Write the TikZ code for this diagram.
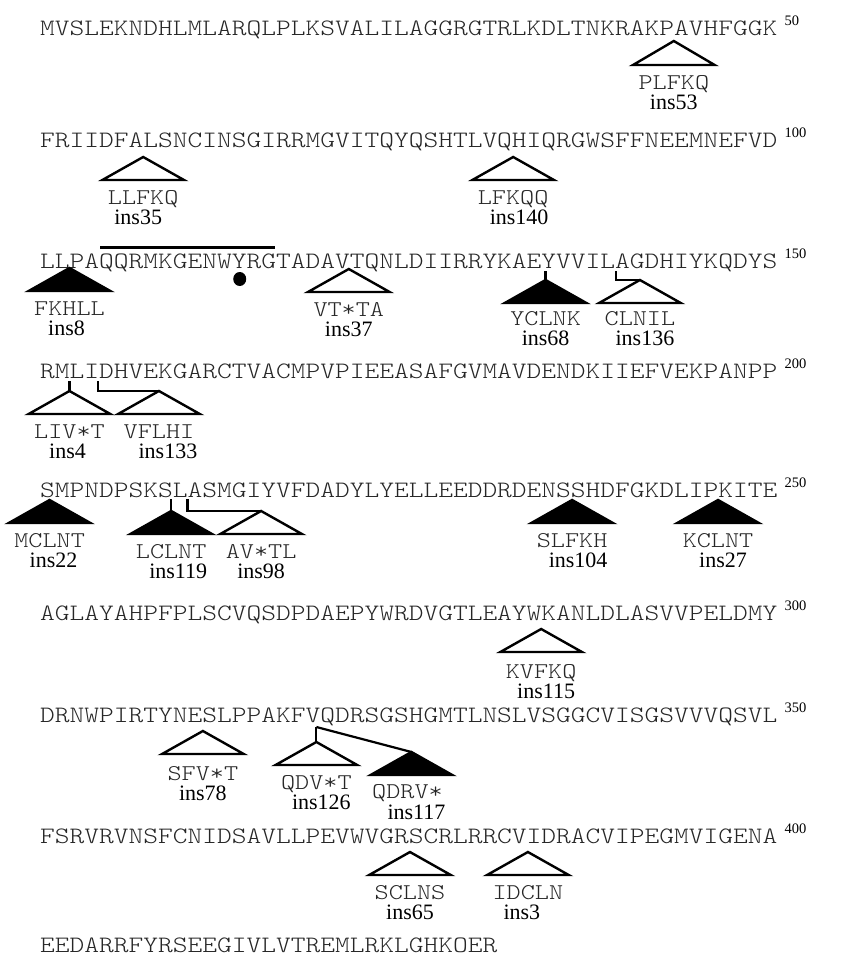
\documentclass[tikz,border=0pt]{standalone}
\usepackage{fontspec}
\setmainfont{Liberation Serif}
\newfontfamily\seqfam[FakeStretch=1.195]{lmmonolt10-regular.otf}
\usetikzlibrary{positioning}

\begin{document}
\begin{tikzpicture}[
    x=1pt, y=-1pt,
    seq/.style  = {font=\seqfam\fontsize{23.5}{23.5}\selectfont, text=black!85,
                   anchor=base west, inner sep=0pt},
    num/.style  = {font=\fontsize{14.5}{14.5}\selectfont, anchor=base west, inner sep=0pt},
    code/.style = {font=\seqfam\fontsize{22.5}{22.5}\selectfont, text=black!85,
                   inner sep=0pt, text height=14pt, text depth=0pt},
    insl/.style = {font=\fontsize{22}{22}\selectfont, inner sep=0pt,
                   text height=15pt, text depth=0pt},
    otri/.style = {draw, line width=2.4pt, fill=white},
    ftri/.style = {draw, line width=2.4pt, fill=black},
    stem/.style = {line width=2.2pt}
]
\useasboundingbox (0,0) rectangle (841,964);

% residues 1-50
\begin{scope}[shift={(40,35)}, x=14.74pt]
\node[seq] (l1) at (0,0) {MVSLEKNDHLMLARQLPLKSVALILAGGRGTRLKDLTNKRAKPAVHFGGK};
\node[num] (n1) at (50.5,-10) {50};
\draw[otri] (43,6) coordinate (a53) -- ++(-2.77,24) -- ++(2.77,0) coordinate (b53) -- ++(2.77,0) -- cycle;
\node[code, below=10pt of b53] (c53) {PLFKQ};
\node[insl, below=5pt of c53]  (i53) {ins53};
\end{scope}

% residues 51-100
\begin{scope}[shift={(40,147)}, x=14.74pt]
\node[seq] (l2) at (0,0) {FRIIDFALSNCINSGIRRMGVITQYQSHTLVQHIQRGWSFFNEEMNEFVD};
\node[num] (n2) at (50.5,-10) {100};
\draw[otri] (7,10) coordinate (a35) -- ++(-2.77,23) -- ++(2.77,0) coordinate (b35) -- ++(2.77,0) -- cycle;
\node[code, below=10pt of b35] (c35) {LLFKQ};
\node[insl, below=5pt of c35, xshift=-5pt] (i35) {ins35};
\draw[otri] (32.1,10) coordinate (a140) -- ++(-2.77,23) -- ++(2.77,0) coordinate (b140) -- ++(2.77,0) -- cycle;
\node[code, below=10pt of b140] (c140) {LFKQQ};
\node[insl, below=5pt of c140, xshift=6pt] (i140) {ins140};
\end{scope}

% residues 101-150
\begin{scope}[shift={(40,268)}, x=14.74pt]
\node[seq] (l3) at (0,0) {LLPAQQRMKGENWYRGTADAVTQNLDIIRRYKAEYVVILAGDHIYKQDYS};
\node[num] (n3) at (50.5,-10) {150};
\draw[line width=3.8pt] (4.1,-20.5) -- (15.96,-20.5);
\fill (13.55,11) ellipse [x radius=6.5pt, y radius=7pt];
\draw[ftri] (2,0) coordinate (a8) -- ++(-2.77,23) -- ++(2.77,0) coordinate (b8) -- ++(2.77,0) -- cycle;
\node[code, below=10pt of b8] (c8) {FKHLL};
\node[insl, below=5pt of c8, xshift=-3pt] (i8) {ins8};
\draw[otri] (20.95,1) coordinate (a37) -- ++(-2.77,23) -- ++(2.77,0) coordinate (b37) -- ++(2.77,0) -- cycle;
\node[code, below=10pt of b37] (c37) {VT*TA};
\node[insl, below=5pt of c37] (i37) {ins37};
\coordinate (s68) at (34.3,3);
\draw[ftri] (34.3,12) coordinate (a68) -- ++(-2.77,23) -- ++(2.77,0) coordinate (b68) -- ++(2.77,0) -- cycle;
\draw[stem] (s68) -- (a68);
\node[code, below=8pt of b68] (c68) {YCLNK};
\node[insl, below=5pt of c68] (i68) {ins68};
\coordinate (s136) at (39.05,3);
\draw[otri] (40.7,12) coordinate (a136) -- ++(-2.77,23) -- ++(2.77,0) coordinate (b136) -- ++(2.77,0) -- cycle;
\draw[stem] (s136) |- (a136);
\node[code, below=8pt of b136] (c136) {CLNIL};
\node[insl, below=5pt of c136, xshift=5pt] (i136) {ins136};
\end{scope}

% residues 151-200
\begin{scope}[shift={(40,378)}, x=14.74pt]
\node[seq] (l4) at (0,0) {RMLIDHVEKGARCTVACMPVPIEEASAFGVMAVDENDKIIEFVEKPANPP};
\node[num] (n4) at (50.5,-10) {200};
\coordinate (s4) at (2,3);
\draw[otri] (2,13) coordinate (a4) -- ++(-2.77,23) -- ++(2.77,0) coordinate (b4) -- ++(2.77,0) -- cycle;
\draw[stem] (s4) -- (a4);
\node[code, below=10pt of b4] (c4) {LIV*T};
\node[insl, below=5pt of c4, xshift=-2pt] (i4) {ins4};
\coordinate (s133) at (3.96,3);
\draw[otri] (8.07,13) coordinate (a133) -- ++(-2.77,23) -- ++(2.77,0) coordinate (b133) -- ++(2.77,0) -- cycle;
\draw[stem] (s133) |- (a133);
\node[code, below=10pt of b133] (c133) {VFLHI};
\node[insl, below=5pt of c133, xshift=9pt] (i133) {ins133};
\end{scope}

% residues 201-250
\begin{scope}[shift={(40,497)}, x=14.74pt]
\node[seq] (l5) at (0,0) {SMPNDPSKSLASMGIYVFDADYLYELLEEDDRDENSSHDFGKDLIPKITE};
\node[num] (n5) at (50.5,-10) {250};
\draw[ftri] (0.65,3) coordinate (a22) -- ++(-2.77,23) -- ++(2.77,0) coordinate (b22) -- ++(2.77,0) -- cycle;
\node[code, below=10pt of b22] (c22) {MCLNT};
\node[insl, below=5pt of c22, xshift=4pt] (i22) {ins22};
\coordinate (s119) at (8.9,2);
\draw[ftri] (8.9,14) coordinate (a119) -- ++(-2.77,23) -- ++(2.77,0) coordinate (b119) -- ++(2.77,0) -- cycle;
\draw[stem] (s119) -- (a119);
\node[code, below=10pt of b119] (c119) {LCLNT};
\node[insl, below=5pt of c119, xshift=7pt] (i119) {ins119};
\coordinate (s98) at (10,2);
\draw[otri] (15,14) coordinate (a98) -- ++(-2.77,23) -- ++(2.77,0) coordinate (b98) -- ++(2.77,0) -- cycle;
\draw[stem] (s98) |- (a98);
\node[code, below=10pt of b98] (c98) {AV*TL};
\node[insl, below=5pt of c98] (i98) {ins98};
\draw[ftri] (36.1,3) coordinate (a104) -- ++(-2.77,23) -- ++(2.77,0) coordinate (b104) -- ++(2.77,0) -- cycle;
\node[code, below=10pt of b104] (c104) {SLFKH};
\node[insl, below=5pt of c104, xshift=6pt] (i104) {ins104};
\draw[ftri] (46,3) coordinate (a27) -- ++(-2.77,23) -- ++(2.77,0) coordinate (b27) -- ++(2.77,0) -- cycle;
\node[code, below=10pt of b27] (c27) {KCLNT};
\node[insl, below=5pt of c27, xshift=5pt] (i27) {ins27};
\end{scope}

% residues 251-300
\begin{scope}[shift={(40,620)}, x=14.74pt]
\node[seq] (l6) at (0,0) {AGLAYAHPFPLSCVQSDPDAEPYWRDVGTLEAYWKANLDLASVVPELDMY};
\node[num] (n6) at (50.5,-10) {300};
\draw[otri] (34,9) coordinate (a115) -- ++(-2.77,23) -- ++(2.77,0) coordinate (b115) -- ++(2.77,0) -- cycle;
\node[code, below=12pt of b115] (c115) {KVFKQ};
\node[insl, below=5pt of c115, xshift=5pt] (i115) {ins115};
\end{scope}

% residues 301-350
\begin{scope}[shift={(40,722)}, x=14.74pt]
\node[seq] (l7) at (0,0) {DRNWPIRTYNESLPPAKFVQDRSGSHGMTLNSLVSGGCVISGSVVVQSVL};
\node[num] (n7) at (50.5,-10) {350};
\draw[otri] (11.05,9) coordinate (a78) -- ++(-2.77,23) -- ++(2.77,0) coordinate (b78) -- ++(2.77,0) -- cycle;
\node[code, below=12pt of b78] (c78) {SFV*T};
\node[insl, below=5pt of c78] (i78) {ins78};
\coordinate (s126) at (18.75,5);
\draw[stem] (s126) -- (25.2,30) coordinate (a117);
\draw[otri] (18.75,20) coordinate (a126) -- ++(-2.77,23) -- ++(2.77,0) coordinate (b126) -- ++(2.77,0) -- cycle;
\draw[stem] (s126) -- (a126);
\node[code, below=10pt of b126] (c126) {QDV*T};
\node[insl, below=5pt of c126, xshift=5pt] (i126) {ins126};
\draw[ftri] (a117) -- ++(-2.77,23) -- ++(2.77,0) coordinate (b117) -- ++(2.77,0) -- cycle;
\node[code, below=9pt of b117, xshift=-4pt] (c117) {QDRV*};
\node[insl, below=6pt of c117, xshift=9pt] (i117) {ins117};
\end{scope}

% residues 351-400
\begin{scope}[shift={(40,843)}, x=14.74pt]
\node[seq] (l8) at (0,0) {FSRVRVNSFCNIDSAVLLPEVWVGRSCRLRRCVIDRACVIPEGMVIGENA};
\node[num] (n8) at (50.5,-10) {400};
\draw[otri] (25.1,9) coordinate (a65) -- ++(-2.77,23) -- ++(2.77,0) coordinate (b65) -- ++(2.77,0) -- cycle;
\node[code, below=10pt of b65] (c65) {SCLNS};
\node[insl, below=5pt of c65] (i65) {ins65};
\draw[otri] (33.1,9) coordinate (a3) -- ++(-2.77,23) -- ++(2.77,0) coordinate (b3) -- ++(2.77,0) -- cycle;
\node[code, below=10pt of b3] (c3) {IDCLN};
\node[insl, below=5pt of c3, xshift=-6pt] (i3) {ins3};
\end{scope}

% residues 401-431
\begin{scope}[shift={(40,952)}, x=14.74pt]
\node[seq] (l9) at (0,0) {EEDARRFYRSEEGIVLVTREMLRKLGHKOER};
\end{scope}
\end{tikzpicture}
\end{document}
